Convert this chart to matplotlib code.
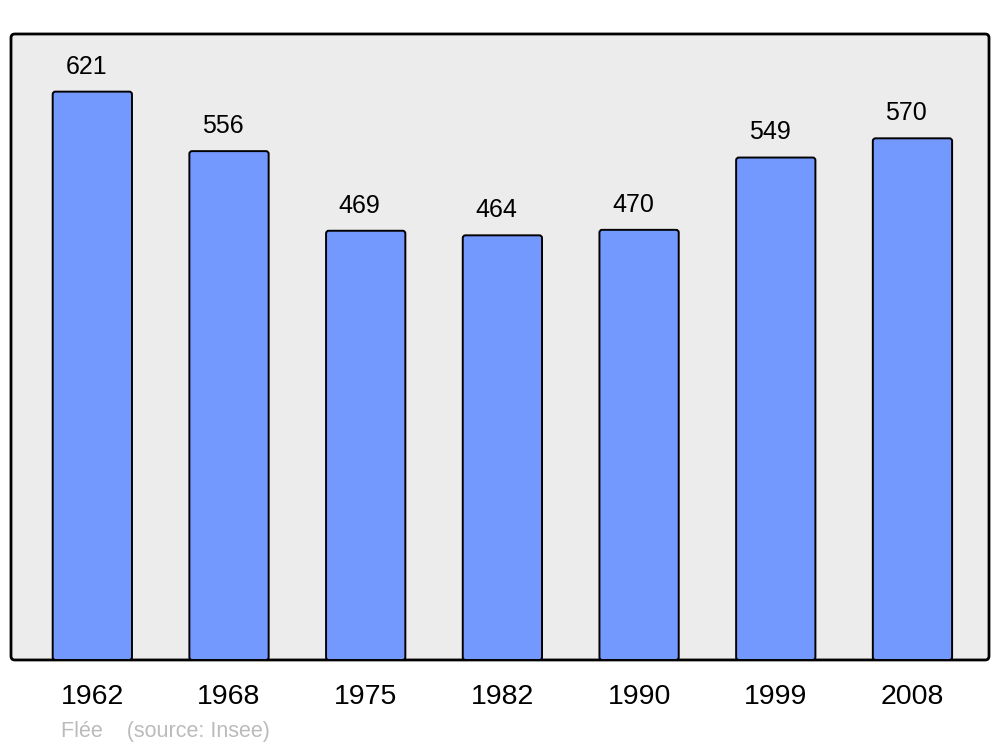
import matplotlib.pyplot as plt
from matplotlib.patches import FancyBboxPatch

plt.rcParams['font.family'] = ['Liberation Sans', 'DejaVu Sans']

# population by census year
years = ['1962', '1968', '1975', '1982', '1990', '1999', '2008']
population = [621, 556, 469, 464, 470, 549, 570]

fig = plt.figure(figsize=(10, 7.47), dpi=100)
ax = fig.add_axes([0.011, 0.1165, 0.978, 0.838])
ax.set_xlim(-0.595, 6.56)
ax.set_ylim(0, 684)

# rounded grey frame instead of the normal axes patch
ax.patch.set_visible(False)
for s in ax.spines.values():
    s.set_visible(False)
frame = FancyBboxPatch((0, 0), 1, 1, transform=ax.transAxes,
                       boxstyle='round,pad=0,rounding_size=0.004',
                       mutation_aspect=978 / 626,
                       facecolor='#ececec', edgecolor='black', linewidth=2,
                       clip_on=False, zorder=0)
ax.add_patch(frame)

x = range(len(years))
bars = ax.bar(x, population, width=0.58, color='none', edgecolor='none')

# swap the plain rectangles for slightly rounded ones
for rect in bars:
    rb = FancyBboxPatch((rect.get_x(), rect.get_y()), rect.get_width(), rect.get_height(),
                        boxstyle='round,pad=0,rounding_size=0.02',
                        mutation_aspect=150,
                        facecolor='#7399ff', edgecolor='black', linewidth=1.4,
                        zorder=2)
    ax.add_patch(rb)

for xi, v in zip(x, population):
    ax.annotate(str(v), (xi, v), xytext=(-4.5, 13), textcoords='offset points',
                ha='center', va='baseline', fontsize=18)

ax.set_xticks(list(x))
ax.set_xticklabels(years, fontsize=20.5)
ax.tick_params(axis='x', length=0, pad=17)
ax.set_yticks([])

fig.text(0.061, 0.0135, 'Flée    (source: Insee)', color='#bbbbbb', fontsize=15.5,
         ha='left', va='baseline')

fig.savefig('out.png', dpi=100)
